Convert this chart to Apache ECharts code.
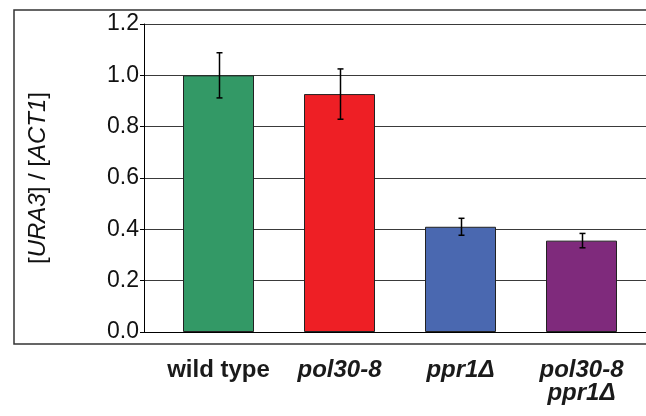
<!DOCTYPE html>
<html>
<head>
<meta charset="utf-8">
<script src="https://cdn.jsdelivr.net/npm/echarts@6/dist/echarts.min.js"></script>
<style>
html,body{margin:0;padding:0;background:#fff;}
#main{width:646px;height:416px;}
</style>
</head>
<body>
<div id="main"></div>
<script>
const categories = ['wild type', 'pol30-8', 'ppr1Δ', 'pol30-8\nppr1Δ'];
const values = [1.0, 0.927, 0.41, 0.356];
const errors = [0.088, 0.098, 0.033, 0.028];
const barColors = ['#339966', '#ee1f25', '#4a68b0', '#7f2a7c'];
const yMin = 0, yMax = 1.2, yStep = 0.2;

const chart = echarts.init(document.getElementById('main'), null, {renderer: 'canvas'});
const FONT = '"Liberation Sans", Arial, sans-serif';

const option = {
  backgroundColor: '#fff',
  animation: false,
  graphic: [{
    type: 'polyline', z: 100, silent: true,
    shape: {points: [[660, 10], [14, 10], [14, 344], [660, 344]]},
    style: {fill: 'none', stroke: '#333', lineWidth: 1.5}
  }],
  grid: [
    {left: 144, right: 0, top: 24, bottom: 84},
    {left: 158, right: 4, top: 24, bottom: 84}
  ],
  xAxis: [
    {gridIndex: 0, type: 'category', data: categories,
     axisLine: {show: true, lineStyle: {color: '#000', width: 1}},
     axisTick: {show: false}, axisLabel: {show: false}, splitLine: {show: false}},
    {gridIndex: 1, type: 'category', data: categories,
     axisLine: {show: false}, axisTick: {show: false}, splitLine: {show: false},
     axisLabel: {
       margin: 27, interval: 0,
       formatter: function (v, i) {
         if (i === 0) return '{b|' + v + '}';
         return v.split('\n').map(s => '{bi|' + s + '}').join('\n');
       },
       rich: {
         b: {fontFamily: FONT, fontSize: 24, fontWeight: 'bold', color: '#1a1a1a', lineHeight: 23},
         bi: {fontFamily: FONT, fontSize: 24, fontWeight: 'bold', fontStyle: 'italic', color: '#1a1a1a', lineHeight: 23}
       }
     }}
  ],
  yAxis: [
    {gridIndex: 0, type: 'value', min: yMin, max: yMax, interval: yStep,
     axisLine: {show: true, lineStyle: {color: '#000', width: 1}},
     axisTick: {show: true, inside: false, length: 4, lineStyle: {color: '#000'}},
     axisLabel: {margin: 5, fontFamily: FONT, fontSize: 23, color: '#111',
       formatter: v => v.toFixed(1)},
     splitLine: {show: true, lineStyle: {color: '#3a3a3a', width: 1}},
     name: '{n|[}{i|URA3}{n|] / [}{i|ACT1}{n|]}',
     nameLocation: 'middle', nameRotate: 90, nameGap: 94,
     nameTextStyle: {fontFamily: FONT, fontSize: 24, fontStyle: 'normal', color: '#111',
       rich: {
         n: {fontFamily: FONT, fontSize: 24, fontStyle: 'normal', color: '#111'},
         i: {fontFamily: FONT, fontSize: 24, fontStyle: 'italic', color: '#111'}
       }}
    },
    {gridIndex: 1, type: 'value', min: yMin, max: yMax, interval: yStep, show: false}
  ],
  series: [
    {
      type: 'bar', xAxisIndex: 1, yAxisIndex: 1, barWidth: 71,
      data: values.map((v, i) => ({value: v, itemStyle: {color: barColors[i]}})),
      itemStyle: {borderColor: '#222', borderWidth: 1}
    },
    {
      type: 'custom', xAxisIndex: 1, yAxisIndex: 1, z: 10,
      data: values.map((v, i) => [i, v - errors[i], v + errors[i]]),
      renderItem: function (params, api) {
        const lo = api.coord([api.value(0), api.value(1)]);
        const hi = api.coord([api.value(0), api.value(2)]);
        const x = Math.round(lo[0]) + 0.5;
        const w = 3;
        const st = {stroke: '#000', lineWidth: 1.5};
        return {type: 'group', children: [
          {type: 'line', shape: {x1: x, y1: hi[1], x2: x, y2: lo[1]}, style: st},
          {type: 'line', shape: {x1: x - w, y1: hi[1], x2: x + w, y2: hi[1]}, style: st},
          {type: 'line', shape: {x1: x - w, y1: lo[1], x2: x + w, y2: lo[1]}, style: st}
        ]};
      }
    }
  ]
};
chart.setOption(option);
</script>
</body>
</html>
